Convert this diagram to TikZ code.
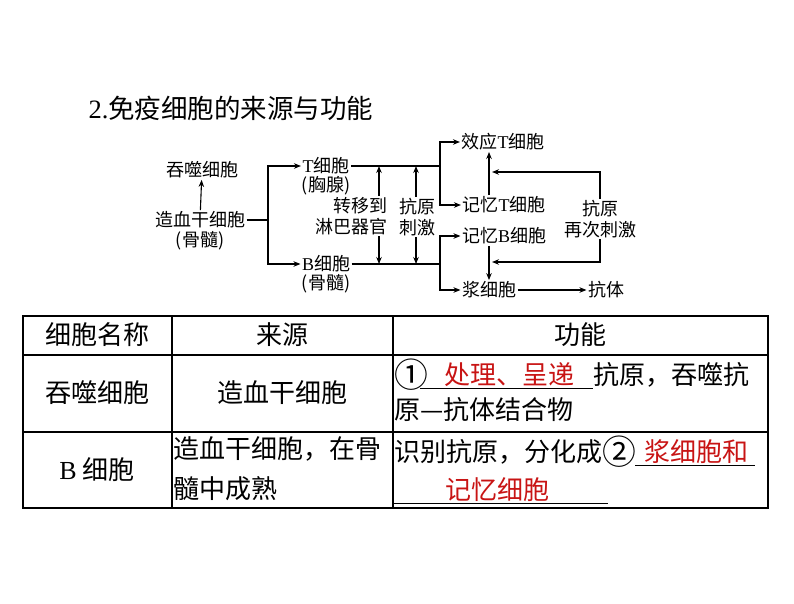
\documentclass[tikz,border=0pt]{standalone}
\usepackage{fontspec}
\setmainfont{Noto Sans CJK SC}
\newfontfamily\latin{Liberation Serif}
\usepackage{xcolor}
\usetikzlibrary{arrows.meta, positioning, calc}
\definecolor{ansred}{RGB}{200,20,20}
\newcommand{\lt}[1]{{\latin #1}}
\newcommand{\circnum}[1]{\raisebox{-0.12em}{\scalebox{1.3}{#1}}}

\begin{document}
\begin{tikzpicture}[x=1pt, y=-1pt, >={Stealth[length=7pt, width=5.5pt]}, line width=1.1pt]
    \tikzstyle{cell} = [inner sep=1pt, font=\fontsize{18}{21}\selectfont, align=center]
    \tikzstyle{tab}  = [inner sep=0pt, font=\fontsize{26}{35}\selectfont]
    \tikzstyle{ans}  = [tab, text=ansred]
    \useasboundingbox (0,0) rectangle (794,603);

    \node (title) [anchor=west, inner sep=0pt, font=\fontsize{26.5}{30}\selectfont] at (88,108) {\lt{2.}免疫细胞的来源与功能};

    % origin of the cells
    \node (stem)    [cell] at (200,220) {造血干细胞};
    \node (stemsrc) [cell] at (200,241) {(骨髓)};
    \node (phago)   [cell] at (202,170) {吞噬细胞};
    \node (tcell)   [cell] at (326,166) {\lt{T}细胞};
    \node (tsrc)    [cell] at (326,186) {(胸腺)};
    \node (bcell)   [cell] at (326,264) {\lt{B}细胞};
    \node (bsrc)    [cell] at (326,284) {(骨髓)};
    \node (move)    [cell, align=right, anchor=east] at (389,216) {转移到\\淋巴器官};
    \node (stim)    [cell] at (417,217) {抗原\\刺激};
    \node (effT)    [cell] at (503,142) {效应\lt{T}细胞};
    \node (memT)    [cell] at (504,205) {记忆\lt{T}细胞};
    \node (memB)    [cell] at (504,236) {记忆\lt{B}细胞};
    \node (plasma)  [cell] at (489,290) {浆细胞};
    \node (antibody)[cell] at (606,290) {抗体};
    \node (restim)  [cell] at (600,219) {抗原\\再次刺激};

    \coordinate (split) at (268,220);
    \coordinate (jt) at (440,166);
    \coordinate (jb) at (440,264);
    \coordinate (mvtop) at (379,166);
    \coordinate (mvbot) at (379,264);
    \coordinate (sttop) at (416,166);
    \coordinate (stbot) at (416,264);
    \coordinate (ra) at (492,172);
    \coordinate (rb) at (492,262);

    \draw [->] (stem) -- (phago);
    \draw (stem.east) -- (split);
    \draw [->] (split) |- (tcell.west);
    \draw [->] (split) |- (bcell.west);
    \draw (tcell.east) -- (jt);
    \draw (bcell.east) -- (jb);
    \draw [->] (move.north -| mvtop) -- (mvtop);
    \draw [->] (move.south -| mvbot) -- (mvbot);
    \draw [->] (stim.north -| sttop) -- (sttop);
    \draw [->] (stim.south -| stbot) -- (stbot);
    \draw [->] (jt) |- (effT.west);
    \draw [->] (jt) |- (memT.west);
    \draw [->] (jb) |- (memB.west);
    \draw [->] (jb) |- (plasma.west);
    \draw [->] (memT.north -| plasma) -- (effT.south -| plasma);
    \draw [->] (memB.south -| plasma) -- (plasma);
    \draw [->] (plasma) -- (antibody);
    \draw [->] (restim.north) |- (ra);
    \draw [->] (restim.south) |- (rb);

    % table
    \draw (23,316) rectangle (768,508);
    \draw (23,355) -- (768,355);
    \draw (23,432) -- (768,432);
    \draw (172,316) -- (172,508);
    \draw (393,316) -- (393,508);

    \node (hname) [tab] at (97,335) {细胞名称};
    \node (hsrc)  [tab] at (282,335) {来源};
    \node (hfun)  [tab] at (580,335) {功能};
    \node (r1name)[tab] at (97,393) {吞噬细胞};
    \node (r1src) [tab] at (282,393) {造血干细胞};
    \node (r2name)[tab] at (97,470) {\lt{B} 细胞};
    \node (r2srca)[tab, anchor=west] at (173,449) {造血干细胞，在骨};
    \node (r2srcb)[tab, anchor=west] at (173,489) {髓中成熟};

    \node (f1a)   [tab, anchor=west] at (394,375) {\circnum{①}};
    \node (blank1)[ans] at (509,375) {处理、呈递};
    \node (f1b)   [tab, anchor=west] at (593,375) {抗原，吞噬抗};
    \node (f1c)   [tab, anchor=west] at (394,410) {原—抗体结合物};
    \node (f2a)   [tab, anchor=west] at (394,452) {识别抗原，分化成\circnum{②}};
    \node (blank2)[ans] at (696,452) {浆细胞和};
    \node (blank3)[ans] at (497,490) {记忆细胞};
    \draw [line width=0.8pt] (420,388) -- (593,388);
    \draw [line width=0.8pt] (635,465) -- (755,465);
    \draw [line width=0.8pt] (394,503) -- (608,503);
\end{tikzpicture}
\end{document}
